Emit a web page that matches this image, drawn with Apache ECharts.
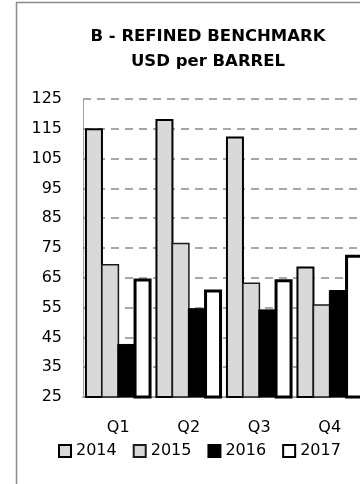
<!DOCTYPE html>
<html>
<head>
<meta charset="utf-8">
<script src="https://cdn.jsdelivr.net/npm/echarts@6/dist/echarts.min.js"></script>
<style>
html,body{margin:0;padding:0;width:360px;height:484px;overflow:hidden;background:#fff;}
#c{position:absolute;left:0;top:0;width:400px;height:484px;}
</style>
</head>
<body>
<div id="c"></div>
<script>
const categories = ['Q1', 'Q2', 'Q3', 'Q4'];
const seriesNames = ['2014', '2015', '2016', '2017'];
const v2014 = [115.2, 118.3, 112.4, 68.8];
const v2015 = [69.6, 76.8, 63.4, 56.1];
const v2016 = [42.8, 54.8, 54.4, 60.9];
const v2017 = [64.8, 61.1, 64.5, 72.7];
const yMin = 25, yMax = 125, yStep = 10;

const FONT = 'DejaVu Sans';
const chart = echarts.init(document.getElementById('c'), null, {renderer: 'canvas'});

function barSeries(name, data, fill, border, bw) {
  return {
    name: name, type: 'bar', data: data,
    barWidth: 18, barGap: '-10%',
    itemStyle: {color: fill, borderColor: border, borderWidth: bw},
    emphasis: {disabled: true}
  };
}

chart.setOption({
  animation: false,
  backgroundColor: '#fff',
  title: {
    text: 'B - REFINED BENCHMARK\nUSD per BARREL',
    left: 203, top: 19, textAlign: 'center',
    textStyle: {fontFamily: FONT, fontWeight: 'bold', fontSize: 16.5, lineHeight: 25, color: '#000'}
  },
  graphic: [{
    type: 'rect', silent: true, z: -1,
    shape: {x: 16.5, y: 2.5, width: 380, height: 520},
    style: {fill: 'none', stroke: '#8c8c8c', lineWidth: 1.5}
  }],
  legend: {
    data: seriesNames,
    left: 53, top: 438,
    itemWidth: 12, itemHeight: 12, itemGap: 16,
    icon: 'rect',
    textStyle: {fontFamily: FONT, fontSize: 16, lineHeight: 16, color: '#000'}
  },
  grid: {left: 83, right: 35, top: 99, bottom: 87, containLabel: false},
  xAxis: {
    type: 'category', data: categories,
    axisLine: {show: true, lineStyle: {color: '#a6a6a6', width: 2}},
    axisTick: {show: false},
    axisLabel: {fontFamily: FONT, fontSize: 16, lineHeight: 16, color: '#000', margin: 23}
  },
  yAxis: {
    type: 'value', min: yMin, max: yMax, interval: yStep,
    axisLine: {show: true, lineStyle: {color: '#8c8c8c', width: 1, type: 'dotted'}},
    axisTick: {show: false},
    axisLabel: {fontFamily: FONT, fontSize: 16, color: '#000', margin: 21},
    splitLine: {show: true, lineStyle: {color: '#8c8c8c', width: 1.5, type: [8, 6]}}
  },
  series: [
    barSeries('2014', v2014, '#d9d9d9', '#000', 2),
    barSeries('2015', v2015, '#d9d9d9', '#1a1a1a', 1.5),
    barSeries('2016', v2016, '#000', '#000', 1),
    barSeries('2017', v2017, '#fff', '#000', 3)
  ]
});
</script>
</body>
</html>
